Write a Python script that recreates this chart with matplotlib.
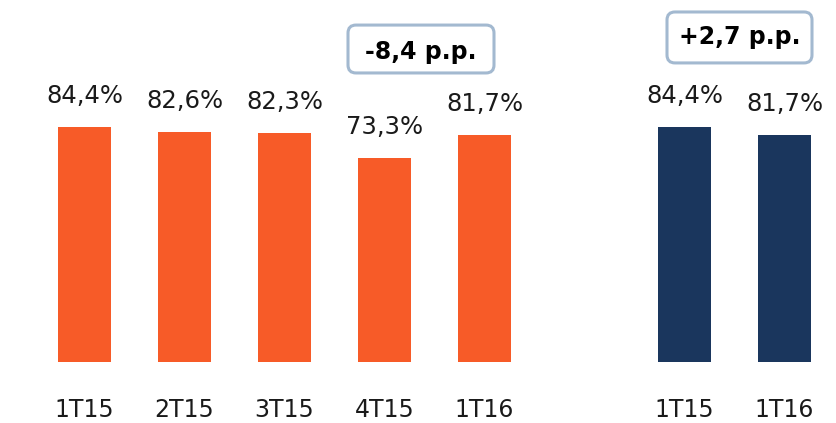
import matplotlib
matplotlib.use("Agg")
import matplotlib.pyplot as plt
from matplotlib.patches import FancyBboxPatch

# dados
cats_tri = ["1T15", "2T15", "3T15", "4T15", "1T16"]
vals_tri = [84.4, 82.6, 82.3, 73.3, 81.7]
cats_ano = ["1T15", "1T16"]
vals_ano = [84.4, 81.7]
var_tri = "-8,4 p.p."
var_ano = "+2,7 p.p."

laranja = "#F75B28"
azul = "#1A365D"
texto = "#1a1a1a"

fig = plt.figure(figsize=(8.36, 4.23), dpi=100)
ax = fig.add_axes([0, 0, 1, 1])
ax.set_xlim(-0.845, 7.515)
ax.set_ylim(-21.9, 130.0)
ax.axis("off")

x_tri = list(range(len(cats_tri)))
x_ano = [6, 7]

ax.bar(x_tri, vals_tri, width=0.53, color=laranja)
ax.bar(x_ano, vals_ano, width=0.53, color=azul)

def fmt(v):
    return f"{v:.1f}%".replace(".", ",")

for xs, cats, vals in [(x_tri, cats_tri, vals_tri), (x_ano, cats_ano, vals_ano)]:
    for x, c, v in zip(xs, cats, vals):
        ax.text(x, v + 8.6, fmt(v), ha="center", va="baseline", fontsize=17.5, color=texto)
        ax.text(x, -19.75, c, ha="center", va="baseline", fontsize=17, color=texto)

# caixas de variação (cantos arredondados, ~8 px)
aspecto = 100 / 2.785
for (x0, y0, w, h), (tx, ty), s in [((2.635, 103.8, 1.46, 17.2), (3.365, 111.3), var_tri),
                                     ((5.825, 107.4, 1.45, 18.3), (6.55, 116.7), var_ano)]:
    ax.add_patch(FancyBboxPatch((x0, y0), w, h, boxstyle="round,pad=0,rounding_size=0.08",
                                mutation_aspect=aspecto,
                                fc="white", ec="#A3B9D0", lw=2.2, zorder=3))
    ax.text(tx, ty, s, ha="center", va="center", fontsize=17, fontweight="bold",
            color="black", zorder=4)

fig.savefig("out.png", dpi=100)
